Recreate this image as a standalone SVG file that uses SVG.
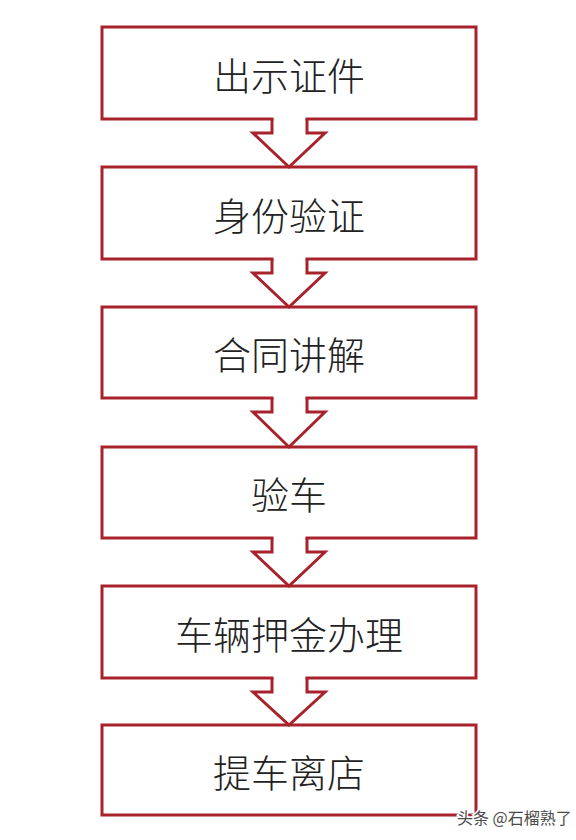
<svg xmlns="http://www.w3.org/2000/svg" width="576" height="840" viewBox="0 0 576 840">
<style>
.box{fill:#fff;stroke:#a8222c;stroke-width:3}
.lbl{font-family:"Noto Sans CJK SC","Noto Sans CJK JP",sans-serif;font-size:38px;font-weight:300;fill:#222;text-anchor:middle;dominant-baseline:central}
.cover{fill:#fff;stroke:none}
.arr{fill:none;stroke:#a8222c;stroke-width:3;stroke-linejoin:miter}
.wm{font-family:"Noto Sans CJK SC",sans-serif;font-size:16px;fill:#4a4a4a;stroke:#fff;stroke-width:3;paint-order:stroke;}
</style>
<rect width="576" height="840" fill="#fff"/>
<g id="n1"><rect class="box" x="102" y="27" width="374" height="92"/><text class="lbl" x="289" y="73">出示证件</text></g>
<g id="n2"><rect class="box" x="102" y="167" width="374" height="92"/><text class="lbl" x="289" y="213">身份验证</text></g>
<g id="n3"><rect class="box" x="102" y="307" width="374" height="91"/><text class="lbl" x="289" y="352">合同讲解</text></g>
<g id="n4"><rect class="box" x="102" y="447" width="374" height="91"/><text class="lbl" x="289" y="492">验车</text></g>
<g id="n5"><rect class="box" x="102" y="586" width="374" height="92"/><text class="lbl" x="289" y="632">车辆押金办理</text></g>
<g id="n6"><rect class="box" x="102" y="725" width="374" height="90"/><text class="lbl" x="289" y="770">提车离店</text></g>
<g id="connectors">
<g transform="translate(0,119)"><path class="cover" d="M273.5,-3V14H253L289,48L325,14H305.5V-3Z"/><path class="arr" d="M272,0V14H253L289,48L325,14H307V0"/></g>
<g transform="translate(0,259)"><path class="cover" d="M273.5,-3V14H253L289,48L325,14H305.5V-3Z"/><path class="arr" d="M272,0V14H253L289,48L325,14H307V0"/></g>
<g transform="translate(0,398)"><path class="cover" d="M273.5,-3V14H253L289,49L325,14H305.5V-3Z"/><path class="arr" d="M272,0V14H253L289,49L325,14H307V0"/></g>
<g transform="translate(0,538)"><path class="cover" d="M273.5,-3V14H253L289,48L325,14H305.5V-3Z"/><path class="arr" d="M272,0V14H253L289,48L325,14H307V0"/></g>
<g transform="translate(0,678)"><path class="cover" d="M273.5,-3V14H253L289,47L325,14H305.5V-3Z"/><path class="arr" d="M272,0V14H253L289,47L325,14H307V0"/></g>
</g>
<text class="wm" x="457" y="824">头条 @石榴熟了</text>
</svg>
